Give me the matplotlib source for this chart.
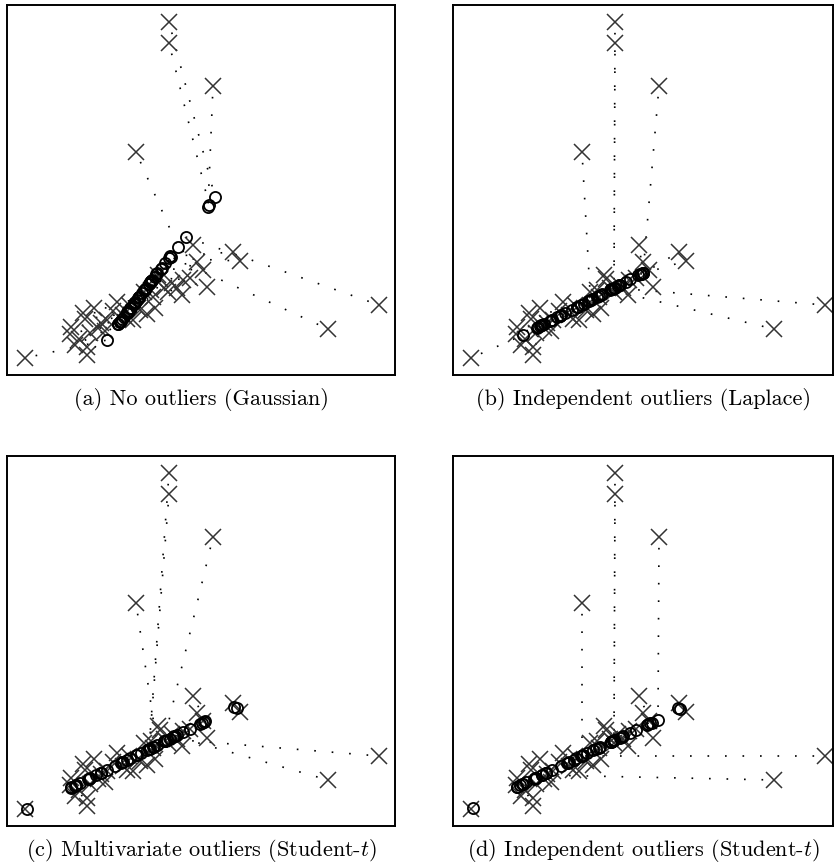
import matplotlib
matplotlib.use("Agg")
import matplotlib.pyplot as plt

plt.rcParams["mathtext.fontset"] = "cm"

# observed points (same in all four panels): cluster first, then the outliers
x_pts = [80, 80, 68, 72, 63, 83, 64, 91, 78, 100, 87, 76, 94, 110, 120, 126, 133, 140,
         148, 131, 146, 137, 144, 161, 157, 170, 175, 153, 151, 176, 196, 200, 190, 186,
         116, 106, 165, 183, 98, 122, 226, 233, 162, 162, 206, 129, 372, 321, 18]
y_pts = [20, 28, 30, 36, 41, 42, 48, 47, 56, 55, 67, 62, 52, 73, 56, 55, 65, 61,
         67, 67, 78, 83, 85, 83, 87, 87, 80, 96, 100, 95, 105, 88, 113, 130,
         60, 64, 92, 97, 44, 70, 123, 114, 353, 332, 289, 223, 70, 46, 17]

# reconstructions, one list per panel
a_x = [111.1, 113.0, 111.2, 113.5, 113.0, 117.0, 114.9, 119.7, 119.5, 123.4, 123.9, 120.6,
       121.5, 129.7, 127.4, 128.3, 132.0, 132.4, 135.3, 132.1, 137.7, 137.2, 139.0, 141.7,
       141.9, 144.4, 143.6, 143.4, 144.0, 147.5, 153.7, 150.2, 154.5, 157.9, 127.6, 126.7,
       144.7, 149.3, 120.4, 131.2, 163, 162, 208, 202, 201, 171, 179, 164, 100]
a_y = [50.5, 53.0, 50.7, 53.7, 53.0, 58.3, 55.5, 61.8, 61.5, 66.7, 67.3, 63.0,
       64.2, 74.9, 71.9, 73.0, 77.9, 78.4, 82.3, 78.1, 85.4, 84.8, 87.1, 90.6,
       90.9, 94.1, 93.1, 92.9, 93.6, 98.2, 106.3, 101.8, 107.4, 111.9, 72.2, 71.0,
       94.6, 100.6, 62.7, 76.7, 118.5, 117, 178, 170, 168, 128, 138, 118, 35]

b_x = [88.3, 90.9, 84.0, 88.5, 84.5, 97.3, 87.4, 104.0, 98.7, 112.1, 107.8, 99.4,
       107.4, 124.2, 124.9, 128.4, 136.0, 139.0, 145.9, 135.3, 148.2, 144.3, 149.3, 159.2,
       158.1, 166.2, 167.0, 158.4, 158.5, 172.5, 188.2, 185.3, 187.3, 190.0, 123.8, 118.8,
       164.7, 177.3, 107.3, 130.6, 190, 188, 161, 161, 190, 137.5, 162, 157, 70]
b_y = [49.5, 50.8, 47.2, 49.6, 47.5, 54.1, 49.0, 57.6, 54.8, 61.8, 59.5, 55.2,
       59.3, 68.0, 68.4, 70.2, 74.1, 75.7, 79.2, 73.8, 80.4, 78.4, 81.0, 86.1,
       85.5, 89.7, 90.1, 85.7, 85.8, 93.0, 101.1, 99.6, 100.6, 102.0, 67.8, 65.2,
       89.0, 95.5, 59.3, 71.3, 101.5, 101, 87, 87, 101.5, 74.5, 87, 85, 40]

c_x = [69.4, 72.6, 63.8, 69.4, 64.2, 80.7, 67.8, 89.1, 82.2, 99.5, 93.8, 83.0,
       93.5, 114.6, 116.0, 120.4, 129.9, 134.0, 142.7, 129.1, 145.5, 140.3, 146.7, 159.6,
       158.0, 168.4, 169.6, 158.4, 158.4, 176.4, 196.5, 192.9, 194.9, 198.4, 114.3, 107.9,
       166.4, 182.7, 93.5, 123.1, 227, 230, 142, 142, 157, 150, 163, 167, 20]
c_y = [41.2, 42.8, 38.4, 41.2, 38.6, 46.8, 40.4, 51.0, 47.5, 56.1, 53.3, 47.9,
       53.1, 63.6, 64.3, 66.5, 71.2, 73.2, 77.5, 70.8, 78.9, 76.3, 79.5, 85.9,
       85.1, 90.3, 90.9, 85.3, 85.3, 94.3, 104.2, 102.4, 103.4, 105.2, 63.5, 60.3,
       89.3, 97.4, 53.1, 67.8, 119, 118, 77, 77, 85, 81, 87, 90, 17]

d_x = [69.5, 72.6, 63.5, 69.2, 63.8, 80.5, 67.3, 88.9, 81.8, 99.3, 93.3, 82.5,
       93.2, 114.5, 116.0, 120.5, 130.1, 134.2, 143.0, 129.2, 145.7, 140.3, 146.8, 159.8,
       158.2, 168.8, 170.1, 158.4, 158.3, 176.7, 197.0, 193.6, 195.3, 198.5, 114.3, 107.7,
       166.6, 183.4, 93.4, 123.1, 225, 227, 161, 161, 205, 129, 128, 89, 20]
d_y = [42.1, 43.6, 39.3, 42.0, 39.4, 47.4, 41.1, 51.4, 48.0, 56.3, 53.4, 48.3,
       53.4, 63.5, 64.2, 66.4, 70.9, 72.9, 77.1, 70.5, 78.3, 75.8, 78.9, 85.0,
       84.3, 89.3, 89.9, 84.4, 84.3, 93.1, 102.7, 101.1, 101.9, 103.4, 63.4, 60.3,
       88.3, 96.2, 53.5, 67.6, 118, 117, 86, 86, 106, 70, 70, 51, 18]

captions = [
    "(a) No outliers (Gaussian)",
    "(b) Independent outliers (Laplace)",
    "(c) Multivariate outliers (Student-$t$)",
    "(d) Independent outliers (Student-$t$)",
]

W, H = 834, 868


def draw_panel(fig, rect_px, xmax, ox, oy, caption):
    left, top, w, h = rect_px
    ax = fig.add_axes([left / W, 1 - (top + h) / H, w / W, h / H])
    for x0, y0, x1, y1 in zip(x_pts, y_pts, ox, oy):
        ax.plot([x0, x1], [y0, y1], color="k", lw=1.2,
                linestyle=(4, (1, 9.5)), dash_capstyle="butt")
    ax.plot(x_pts, y_pts, "x", ms=11, mew=1.1, color="0.2", linestyle="none")
    ax.plot(ox, oy, "o", ms=8, mfc="none", mec="k", mew=1.3, linestyle="none")
    ax.set_xlim(0, xmax)
    ax.set_ylim(0, 370)
    ax.set_xticks([])
    ax.set_yticks([])
    for s in ax.spines.values():
        s.set_linewidth(1.4)
    fig.text((left + w / 2) / W, 1 - (top + h + 24) / H, caption,
             ha="center", va="center", fontsize=16, family="cmr10")
    return ax


fig = plt.figure(figsize=(W / 100, H / 100), dpi=100)
draw_panel(fig, (7, 5, 388, 370), 388, a_x, a_y, captions[0])
draw_panel(fig, (453, 5, 380, 370), 380, b_x, b_y, captions[1])
draw_panel(fig, (7, 456, 388, 370), 388, c_x, c_y, captions[2])
draw_panel(fig, (453, 456, 380, 370), 380, d_x, d_y, captions[3])

fig.savefig("out.png", dpi=100)
